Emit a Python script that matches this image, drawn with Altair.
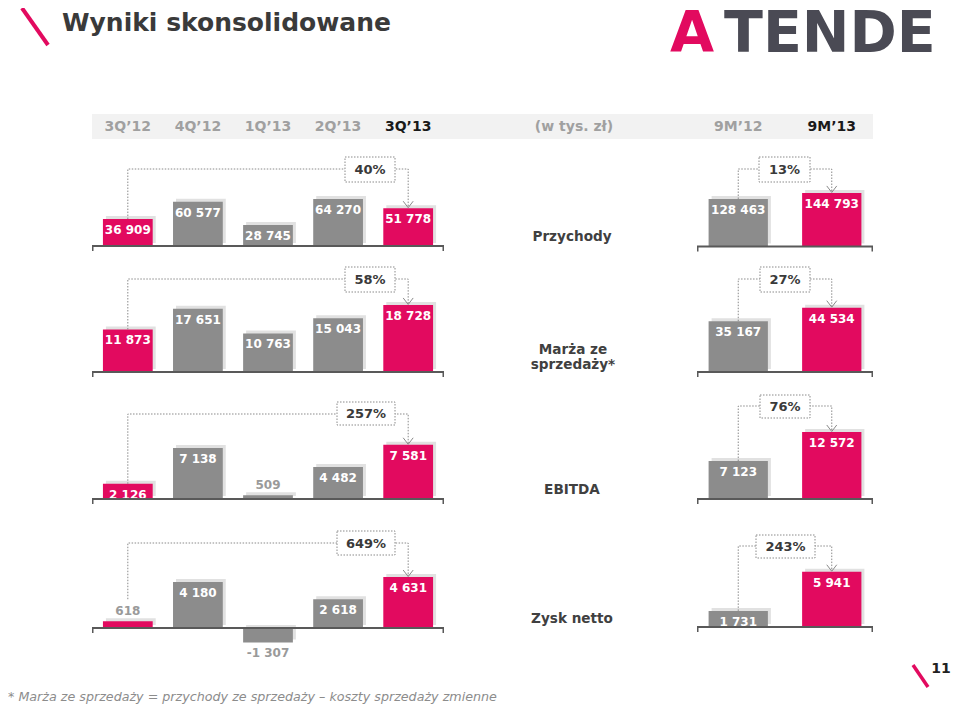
import altair as alt
import pandas as pd

# ---------------- data ----------------
quarters = ["3Q’12", "4Q’12", "1Q’13", "2Q’13", "3Q’13"]
ytd = ["9M’12", "9M’13"]

revenue_q = [36909, 60577, 28745, 64270, 51778]
margin_q = [11873, 17651, 10763, 15043, 18728]
ebitda_q = [2126, 7138, 509, 4482, 7581]
net_q = [618, 4180, -1307, 2618, 4631]

revenue_9m = [128463, 144793]
margin_9m = [35167, 44534]
ebitda_9m = [7123, 12572]
net_9m = [1731, 5941]

growth_q = ["40%", "58%", "257%", "649%"]
growth_9m = ["13%", "27%", "76%", "243%"]

metric_names = ["Przychody", "Marża ze\nsprzedaży*", "EBITDA", "Zysk netto"]
title_text = "Wyniki skonsolidowane"
unit_text = "(w tys. zł)"
logo_parts = ["A", "TENDE"]
footnote = "* Marża ze sprzedaży = przychody ze sprzedaży – koszty sprzedaży zmienne"
page_no = "11"

# ---------------- style / layout ----------------
FONT = "DejaVu Sans"
PINK = "#e20a5f"
GREY = "#8c8c8c"
SHADOW = "#d9d9d9"
LABEL_GREY = "#9a9a9a"
LINE_GREY = "#8a8a8a"
AXIS = "#595959"
DARK = "#3a3a3a"
W, H = 944, 697
O = 8


def X(p):
    return p - O


def Y(p):
    return p - O


def fmt(v):
    return f"{v:,}".replace(",", " ")


q_colors = [PINK, GREY, GREY, GREY, PINK]
m_colors = [GREY, PINK]

Q_RANGE = (92, 444)
M_RANGE = (697, 873)

rows = [
    dict(qv=revenue_q, mv=revenue_9m, gq=growth_q[0], gm=growth_9m[0],
         base_q=246, kq=0.73e-3, base_m=246.5, km=0.37e-3, line_q=169, line_m=169,
         box_q=(345, 395, 157, 182), box_m=(759, 810, 157, 182), label=(572, 237)),
    dict(qv=margin_q, mv=margin_9m, gq=growth_q[1], gm=growth_9m[1],
         base_q=372, kq=3.58e-3, base_m=372, km=1.445e-3, line_q=279, line_m=279,
         box_q=(345, 395, 267, 292), box_m=(760, 810, 267, 292), label=(573, 350)),
    dict(qv=ebitda_q, mv=ebitda_9m, gq=growth_q[2], gm=growth_9m[2],
         base_q=499, kq=7.15e-3, base_m=499, km=5.33e-3, line_q=414, line_m=406,
         box_q=(337, 395, 402, 425), box_m=(760, 810, 395, 418), label=(572, 490)),
    dict(qv=net_q, mv=net_9m, gq=growth_q[3], gm=growth_9m[3],
         base_q=628, kq=11.0e-3, base_m=627, km=9.3e-3, line_q=543, line_m=546,
         box_q=(337, 395, 531, 555), box_m=(756, 815, 535, 558), label=(572, 619)),
]

one = pd.DataFrame({"k": [0]})


def panel(periods, values, colors, growth, base, k, xr, pad_in, pad_out,
          line_y, box, header_colors=None):
    y0 = Y(base)
    lo = min(0, min(values))
    hi = max(values)
    ysc = alt.Scale(domain=[lo, hi], range=[y0 - lo * k, y0 - hi * k], nice=False)
    xsc = alt.Scale(type="band", domain=periods, range=[X(xr[0]), X(xr[1])],
                    paddingInner=pad_in, paddingOuter=pad_out)
    # shadow: same scales shifted a few pixels up and to the right
    sh = 3
    ysc_s = alt.Scale(domain=[lo, hi], range=[y0 - lo * k - sh, y0 - hi * k - sh], nice=False)
    xsc_s = alt.Scale(type="band", domain=periods, range=[X(xr[0]) + sh, X(xr[1]) + sh],
                      paddingInner=pad_in, paddingOuter=pad_out)

    recs = []
    for p, v, c in zip(periods, values, colors):
        h = abs(v) * k
        if v < 0:
            ly, lc, inside = v - 11 / k, LABEL_GREY, False
        elif h < 12:
            ly, lc, inside = v + 10 / k, LABEL_GREY, False
        else:
            ly, lc, inside = v - 11 / k, "white", True
        recs.append(dict(period=p, value=v, color=c, label=fmt(v),
                         label_y=ly, label_color=lc, inside=inside))
    df = pd.DataFrame(recs)

    xenc = alt.X("period:N", scale=xsc, axis=None)
    xc = alt.X("period:N", scale=xsc, axis=None, bandPosition=0.5)

    shadow = alt.Chart(df).mark_bar(color=SHADOW, opacity=0.8).encode(
        x=alt.X("period:N", scale=xsc_s, axis=None),
        y=alt.Y("value:Q", scale=ysc_s, axis=None),
        y2=alt.datum(0),
    )

    bars = alt.Chart(df).mark_bar().encode(
        x=xenc,
        y=alt.Y("value:Q", scale=ysc, axis=None),
        y2=alt.datum(0),
        color=alt.Color("color:N", scale=None),
    )
    labels = alt.Chart(df).mark_text(font=FONT, fontWeight="bold", fontSize=12,
                                     baseline="middle").encode(
        x=xc,
        y=alt.Y("label_y:Q", scale=ysc, axis=None),
        text="label:N",
        color=alt.Color("label_color:N", scale=None),
    )

    first = recs[0]
    src_anchor = first["value"] if first["inside"] else first["label_y"] + 12 / k
    line_val = (y0 - Y(line_y)) / k
    tgt = values[-1]
    br = pd.DataFrame({
        "period": [periods[0], periods[0], periods[-1], periods[-1]],
        "v": [src_anchor, line_val, line_val, tgt + 1 / k],
        "step": [0, 1, 2, 3],
    })
    bracket = alt.Chart(br).mark_line(color=LINE_GREY, strokeWidth=1,
                                      strokeDash=[1.5, 1.5]).encode(
        x=xc, y=alt.Y("v:Q", scale=ysc, axis=None), order="step:Q")
    arrow = alt.Chart(pd.DataFrame({"period": [periods[-1]], "v": [tgt]})).mark_point(
        shape="M-1,-1.4L0,-0.1L1,-1.4", filled=False, size=100, color=LINE_GREY,
        strokeWidth=1, opacity=1).encode(x=xc, y=alt.Y("v:Q", scale=ysc, axis=None))

    gdf = pd.DataFrame({"g": [growth]})
    boxr = alt.Chart(gdf).mark_rect(fill="white", stroke=LINE_GREY, strokeWidth=1,
                                    strokeDash=[1.5, 1.5]).encode(
        x=alt.value(X(box[0])), x2=alt.value(X(box[1])),
        y=alt.value(Y(box[2])), y2=alt.value(Y(box[3])))
    boxt = alt.Chart(gdf).mark_text(font=FONT, fontWeight="bold", fontSize=13,
                                    color=DARK, baseline="middle").encode(
        x=alt.value(X((box[0] + box[1]) / 2)), y=alt.value(Y((box[2] + box[3]) / 2) + 0.5),
        text="g:N")

    zdf = pd.DataFrame({"z": [0]})
    base_rule = alt.Chart(zdf).mark_rule(color=AXIS, strokeWidth=2).encode(
        x=alt.value(X(xr[0])), x2=alt.value(X(xr[1])),
        y=alt.Y("z:Q", scale=ysc, axis=None))
    end_l = alt.Chart(zdf).mark_rule(color=AXIS, strokeWidth=1.5).encode(
        x=alt.value(X(xr[0]) + 0.75), y=alt.Y("z:Q", scale=ysc, axis=None),
        y2=alt.value(y0 + 5))
    end_r = alt.Chart(zdf).mark_rule(color=AXIS, strokeWidth=1.5).encode(
        x=alt.value(X(xr[1]) - 0.75), y=alt.Y("z:Q", scale=ysc, axis=None),
        y2=alt.value(y0 + 5))

    layers = [bars, bracket, boxr, boxt, arrow, labels, base_rule, end_l, end_r]
    if header_colors is not None:
        hdf = pd.DataFrame({"period": periods, "c": header_colors})
        head = alt.Chart(hdf).mark_text(font=FONT, fontWeight="bold", fontSize=14,
                                        baseline="middle").encode(
            x=xc, y=alt.value(Y(126.5)), text="period:N",
            color=alt.Color("c:N", scale=None))
        layers.append(head)
    return shadow, alt.layer(*layers)


# ---------------- decorations ----------------
deco = []
deco.append(alt.Chart(one).mark_rect(color="#f2f2f2").encode(
    x=alt.value(X(92)), x2=alt.value(X(873)), y=alt.value(Y(114)), y2=alt.value(Y(139))))
deco.append(alt.Chart(one).mark_rule(color=PINK, strokeWidth=4).encode(
    x=alt.value(X(22)), y=alt.value(Y(8)), x2=alt.value(X(48)), y2=alt.value(Y(45))))
deco.append(alt.Chart(pd.DataFrame({"t": [title_text]})).mark_text(
    font=FONT, fontWeight="bold", fontSize=25, color=DARK, align="left",
    baseline="alphabetic").encode(x=alt.value(X(62)), y=alt.value(Y(31)), text="t:N"))
deco.append(alt.Chart(pd.DataFrame({"t": [logo_parts[0]]})).mark_text(
    font=FONT, fontWeight="bold", fontSize=57, color=PINK, align="left",
    baseline="alphabetic").encode(x=alt.value(X(670)), y=alt.value(Y(52)), text="t:N"))
deco.append(alt.Chart(pd.DataFrame({"t": [logo_parts[1]]})).mark_text(
    font=FONT, fontWeight="bold", fontSize=57, color="#4a4a54", align="left",
    baseline="alphabetic").encode(x=alt.value(X(724)), y=alt.value(Y(52)), text="t:N"))
deco.append(alt.Chart(pd.DataFrame({"t": [unit_text]})).mark_text(
    font=FONT, fontWeight="bold", fontSize=14, color="#a0a0a0", baseline="middle").encode(
    x=alt.value(X(574)), y=alt.value(Y(126.5)), text="t:N"))
deco.append(alt.Chart(one).mark_rule(color=PINK, strokeWidth=3.5).encode(
    x=alt.value(X(913)), y=alt.value(Y(665)), x2=alt.value(X(928)), y2=alt.value(Y(687))))
deco.append(alt.Chart(pd.DataFrame({"t": [page_no]})).mark_text(
    font=FONT, fontWeight="bold", fontSize=14, color="#222222", baseline="middle").encode(
    x=alt.value(X(941)), y=alt.value(Y(669)), text="t:N"))
deco.append(alt.Chart(pd.DataFrame({"t": [footnote]})).mark_text(
    font=FONT, fontStyle="italic", fontSize=12.7, color="#8c8c8c", align="left",
    baseline="alphabetic").encode(x=alt.value(0), y=alt.value(693), text="t:N"))

for name, r in zip(metric_names, rows):
    deco.append(alt.Chart(pd.DataFrame({"t": [name]})).mark_text(
        font=FONT, fontWeight="bold", fontSize=13.6, color="#404040", baseline="middle",
        lineBreak="\n", lineHeight=15).encode(
        x=alt.value(X(r["label"][0])), y=alt.value(Y(r["label"][1])), text="t:N"))

shadows = []
panels = []
for i, r in enumerate(rows):
    hq = ["#a0a0a0"] * 4 + ["#1a1a1a"] if i == 0 else None
    hm = ["#a0a0a0", "#1a1a1a"] if i == 0 else None
    s, p = panel(quarters, r["qv"], q_colors, r["gq"], r["base_q"], r["kq"],
                 Q_RANGE, 0.29, 0.156, r["line_q"], r["box_q"], hq)
    shadows.append(s)
    panels.append(p)
    s, p = panel(ytd, r["mv"], m_colors, r["gm"], r["base_m"], r["km"],
                 M_RANGE, 0.366, 0.124, r["line_m"], r["box_m"], hm)
    shadows.append(s)
    panels.append(p)

chart = alt.layer(*deco, *shadows, *panels).resolve_scale(
    x="independent", y="independent", color="independent"
).properties(
    width=W, height=H, padding=0, background="white",
    autosize=alt.AutoSizeParams(type="none"),
).configure_view(stroke=None)

chart.save("out.html", embed_options={"renderer": "svg", "actions": False})
